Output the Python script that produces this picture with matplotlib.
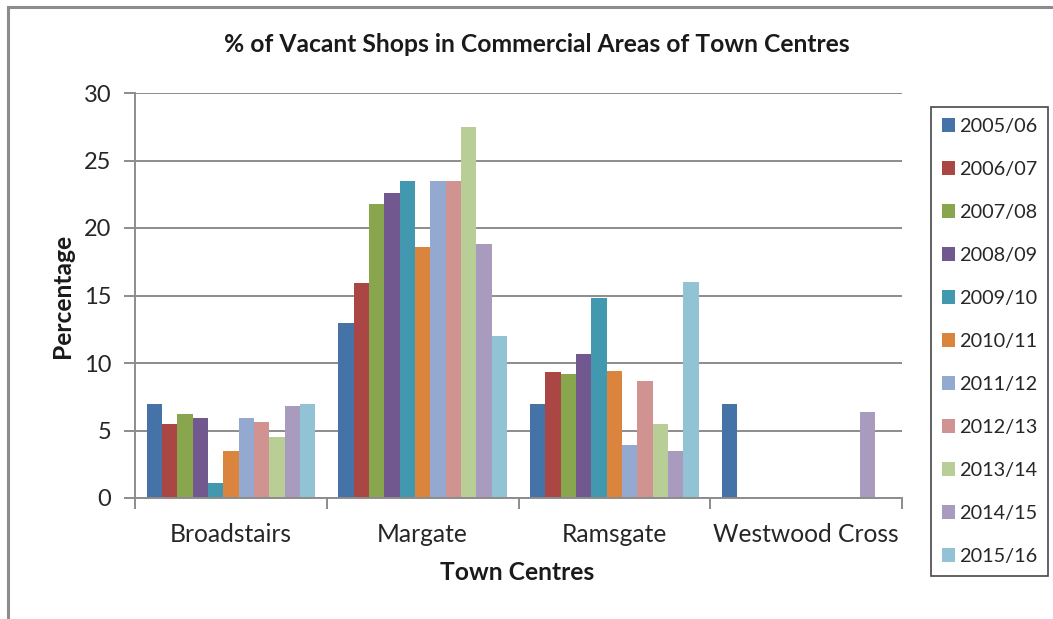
import numpy as np
import matplotlib
matplotlib.use("Agg")
import matplotlib.pyplot as plt
from matplotlib.patches import Rectangle

plt.rcParams['font.family'] = ['Lato', 'DejaVu Sans']

categories = ["Broadstairs", "Margate", "Ramsgate", "Westwood Cross"]
years = ["2005/06", "2006/07", "2007/08", "2008/09", "2009/10", "2010/11",
         "2011/12", "2012/13", "2013/14", "2014/15", "2015/16"]
nan = np.nan
v_2005_06 = [7.0, 13.0, 7.0, 7.0]
v_2006_07 = [5.5, 15.9, 9.3, nan]
v_2007_08 = [6.2, 21.8, 9.2, nan]
v_2008_09 = [5.9, 22.6, 10.7, nan]
v_2009_10 = [1.1, 23.5, 14.8, nan]
v_2010_11 = [3.5, 18.6, 9.4, nan]
v_2011_12 = [5.9, 23.5, 3.9, nan]
v_2012_13 = [5.6, 23.5, 8.7, nan]
v_2013_14 = [4.5, 27.5, 5.5, nan]
v_2014_15 = [6.8, 18.8, 3.5, 6.4]
v_2015_16 = [7.0, 12.0, 16.0, nan]
series = [v_2005_06, v_2006_07, v_2007_08, v_2008_09, v_2009_10, v_2010_11,
          v_2011_12, v_2012_13, v_2013_14, v_2014_15, v_2015_16]
colors = ["#4572A7", "#AA4643", "#89A54E", "#71588F", "#4198AF", "#DB843D",
          "#93A9CF", "#D19392", "#B9CD96", "#A99BBD", "#92C3D4"]

W, H = 1053, 619
fig = plt.figure(figsize=(W / 100, H / 100), dpi=100)
fig.patch.set_facecolor("white")

# outer chart border (cropped at right and bottom)
fig.add_artist(Rectangle((8 / W, -0.05), 1.1, 1 - 7 / H + 0.05, transform=fig.transFigure,
                         fill=False, edgecolor="#8C8C8C", linewidth=2.2))

left, right, top, bottom = 135, 902, 93, 498
ax = fig.add_axes([left / W, 1 - bottom / H, (right - left) / W, (bottom - top) / H])

n = len(series)
bw = 1 / (n + 1.5)
x = np.arange(len(categories))
for i, (vals, c, lab) in enumerate(zip(series, colors, years)):
    ax.bar(x + (i - (n - 1) / 2) * bw, vals, width=bw, color=c, label=lab, linewidth=0)

ax.set_xlim(-0.5, len(categories) - 0.5)
ax.set_ylim(0, 30)
ax.set_yticks(np.arange(0, 31, 5))
ax.yaxis.grid(True, color="#8C8C8C", linewidth=1.4)
ax.set_axisbelow(True)
for s in ["top", "right"]:
    ax.spines[s].set_visible(False)
for s in ["left", "bottom"]:
    ax.spines[s].set_color("#8C8C8C")
    ax.spines[s].set_linewidth(1.4)

ax.set_xticks(np.arange(-0.5, len(categories)), minor=False)
ax.set_xticklabels([])
ax.set_xticks(x, minor=True)
ax.set_xticklabels(categories, minor=True, fontsize=17.7, color="#262626")
ax.tick_params(axis="x", which="major", length=8, color="#8C8C8C", width=1.4)
ax.tick_params(axis="x", which="minor", length=0, pad=18)
ax.tick_params(axis="y", length=8, color="#8C8C8C", width=1.4, labelsize=17,
               labelcolor="#262626", pad=9)

fig.text(537 / W, 1 - 45 / H, "% of Vacant Shops in Commercial Areas of Town Centres",
         ha="center", va="center", fontsize=17.7, fontweight="bold", color="#1a1a1a")
fig.text(62 / W, 1 - 296 / H, "Percentage", rotation=90, ha="center", va="center",
         fontsize=17.7, fontweight="bold", color="#1a1a1a")
fig.text(517 / W, 1 - 573 / H, "Town Centres", ha="center", va="center",
         fontsize=17.7, fontweight="bold", color="#1a1a1a")

leg = fig.legend(loc="upper left", bbox_to_anchor=(931 / W, 1 - 107 / H),
                 fontsize=14.3, frameon=True, fancybox=False, labelspacing=1.31,
                 handlelength=0.65, handleheight=0.65, handletextpad=0.2,
                 borderpad=0.55, borderaxespad=0)
leg.get_frame().set_edgecolor("#1a1a1a")
leg.get_frame().set_linewidth(1.2)
for t in leg.get_texts():
    t.set_color("#262626")

fig.savefig("out.png", dpi=100)
